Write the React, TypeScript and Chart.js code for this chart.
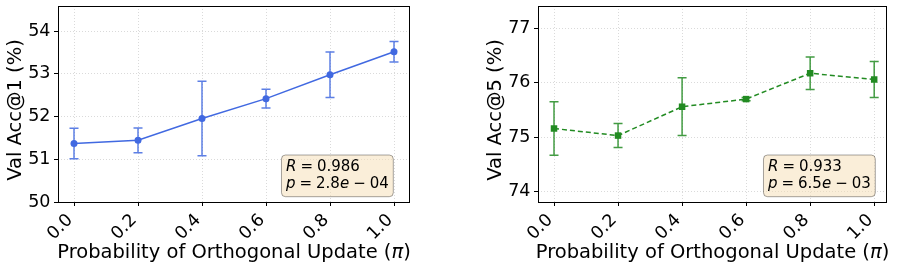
import React, { useEffect, useRef } from "react";
import { Chart, registerables } from "chart.js";

Chart.register(...registerables);

// ---------------- data ----------------
const probabilities = [0.0, 0.2, 0.4, 0.6, 0.8, 1.0];
const xTickValues = [0.0, 0.2, 0.4, 0.6, 0.8, 1.0];

const acc1Mean = [51.37, 51.445, 51.955, 52.42, 52.98, 53.52];
const acc1Err = [0.36, 0.29, 0.87, 0.22, 0.535, 0.24];
const acc1Ticks = [50, 51, 52, 53, 54];
const acc1R = "0.986";
const acc1PMant = "2.8";
const acc1PExp = "04";

const acc5Mean = [75.16, 75.03, 75.56, 75.7, 76.175, 76.06];
const acc5Err = [0.49, 0.22, 0.53, 0.03, 0.3, 0.33];
const acc5Ticks = [74, 75, 76, 77];
const acc5R = "0.933";
const acc5PMant = "6.5";
const acc5PExp = "03";

const xLabelMain = "Probability of Orthogonal Update (";
const xLabelSym = "π";
const xLabelEnd = ")";
const acc1Label = "Val Acc@1 (%)";
const acc5Label = "Val Acc@5 (%)";

const FONT = "'DejaVu Sans', 'Noto Sans', sans-serif";

type Seg = [string, "n" | "i" | "op"];

function drawSegs(ctx: CanvasRenderingContext2D, segs: Seg[], x: number, y: number, size: number, measureOnly = false) {
  const opPad = 4;
  let cx = x;
  for (const [t, k] of segs) {
    ctx.font = (k === "i" ? "oblique " : "") + size + "px " + FONT;
    if (k === "op") cx += opPad;
    if (!measureOnly) ctx.fillText(t, cx, y);
    cx += ctx.measureText(t).width;
    if (k === "op") cx += opPad;
  }
  return cx - x;
}

const decorPlugin = {
  id: "decor",
  beforeDatasetsDraw(chart: any, _args: any, opts: any) {
    const { ctx, chartArea: a, scales } = chart;
    const x = scales.x, y = scales.y;
    ctx.save();
    ctx.strokeStyle = "#000";
    ctx.lineWidth = 1;
    ctx.strokeRect(Math.round(a.left) + 0.5, Math.round(a.top) + 0.5, Math.round(a.right) - Math.round(a.left) - 1, Math.round(a.bottom) - Math.round(a.top));
    ctx.strokeStyle = opts.errColor;
    ctx.lineWidth = 1.5;
    const cap = 4.5;
    opts.xs.forEach((xv: number, i: number) => {
      const px = x.getPixelForValue(xv);
      const top = y.getPixelForValue(opts.means[i] + opts.errs[i]);
      const bot = y.getPixelForValue(opts.means[i] - opts.errs[i]);
      ctx.beginPath();
      ctx.moveTo(px, top);
      ctx.lineTo(px, bot);
      ctx.moveTo(px - cap, top);
      ctx.lineTo(px + cap, top);
      ctx.moveTo(px - cap, bot);
      ctx.lineTo(px + cap, bot);
      ctx.stroke();
    });
    ctx.restore();
  },
  afterDraw(chart: any, _args: any, opts: any) {
    const { ctx, chartArea: a } = chart;
    ctx.save();
    ctx.fillStyle = "#000";
    const tsize = 19.5;
    ctx.textBaseline = "alphabetic";
    ctx.textAlign = "left";
    const xsegs: Seg[] = [[xLabelMain, "n"], [xLabelSym, "i"], [xLabelEnd, "n"]];
    const w = drawSegs(ctx, xsegs, 0, 0, tsize, true);
    drawSegs(ctx, xsegs, (a.left + a.right) / 2 - w / 2, 257.5, tsize);
    ctx.save();
    ctx.translate(a.left - 42.5, (a.top + a.bottom) / 2 + 6);
    ctx.rotate(-Math.PI / 2);
    ctx.font = tsize + "px " + FONT;
    ctx.textAlign = "center";
    ctx.textBaseline = "middle";
    ctx.fillText(opts.yLabel, 0, 0);
    ctx.restore();
    const fs = 15;
    const l1: Seg[] = [["R", "i"], ["=", "op"], [opts.R, "n"]];
    const l2: Seg[] = [["p", "i"], ["=", "op"], [opts.pMant, "n"], ["e", "i"], ["−", "op"], [opts.pExp, "n"]];
    ctx.textAlign = "left";
    ctx.textBaseline = "alphabetic";
    const tw = Math.max(drawSegs(ctx, l1, 0, 0, fs, true), drawSegs(ctx, l2, 0, 0, fs, true));
    const pad = 4.5;
    const bw = tw + 2 * pad;
    const bh = 41.7;
    const br = a.right - opts.boxRight;
    const bb = a.bottom - 5.3;
    const bl = br - bw;
    const bt = bb - bh;
    ctx.beginPath();
    (ctx as any).roundRect(bl, bt, bw, bh, 4);
    ctx.fillStyle = "rgba(245,222,179,0.5)";
    ctx.fill();
    ctx.strokeStyle = "rgba(0,0,0,0.35)";
    ctx.lineWidth = 1;
    ctx.stroke();
    ctx.fillStyle = "#000";
    drawSegs(ctx, l1, bl + pad, bt + 16, fs);
    drawSegs(ctx, l2, bl + pad, bt + 33.4, fs);
    ctx.restore();
  },
};

type Panel = {
  means: number[];
  errs: number[];
  yTicks: number[];
  yMin: number;
  yMax: number;
  xMin: number;
  xMax: number;
  color: string;
  errColor: string;
  dash: number[];
  pointStyle: string;
  pointRadius: number;
  yLabel: string;
  R: string;
  pMant: string;
  pExp: string;
  padLeft: number;
  padRight: number;
  boxRight: number;
};

function makeConfig(p: Panel): any {
  const gridColor = "rgba(170,170,170,0.55)";
  const tickFont = { size: 17.5, family: FONT };
  return {
    type: "line",
    data: {
      datasets: [
        {
          data: probabilities.map((xv, i) => ({ x: xv, y: p.means[i] })),
          borderColor: p.color,
          backgroundColor: p.color,
          borderWidth: 1.5,
          borderDash: p.dash,
          pointStyle: p.pointStyle,
          pointRadius: p.pointRadius,
          pointBackgroundColor: p.color,
          pointBorderWidth: 0,
          tension: 0,
        },
      ],
    },
    options: {
      responsive: false,
      animation: false,
      devicePixelRatio: 1,
      layout: { padding: { left: p.padLeft, right: p.padRight, top: 6, bottom: 0 } },
      plugins: {
        legend: { display: false },
        tooltip: { enabled: false },
        decor: {
          xs: probabilities,
          means: p.means,
          errs: p.errs,
          errColor: p.errColor,
          yLabel: p.yLabel,
          R: p.R,
          pMant: p.pMant,
          pExp: p.pExp,
          boxRight: p.boxRight,
        },
      },
      scales: {
        x: {
          type: "linear",
          min: p.xMin,
          max: p.xMax,
          afterBuildTicks: (s: any) => {
            s.ticks = xTickValues.map((v) => ({ value: v }));
          },
          afterFit: (s: any) => {
            s.height = 69;
            s.paddingLeft = 0;
            s.paddingRight = 0;
          },
          ticks: {
            autoSkip: false,
            minRotation: 45,
            maxRotation: 45,
            padding: 4,
            labelOffset: -3.8,
            color: "#000",
            font: tickFont,
            callback: (v: any) => Number(v).toFixed(1),
          },
          grid: {
            color: gridColor,
            lineWidth: 0.8,
            tickColor: "#000",
            tickLength: 4,
            tickWidth: 1,
            tickBorderDash: [],
          },
          border: { display: false, dash: [1, 2] },
        },
        y: {
          type: "linear",
          min: p.yMin,
          max: p.yMax,
          afterBuildTicks: (s: any) => {
            s.ticks = p.yTicks.map((v) => ({ value: v }));
          },
          afterFit: (s: any) => {
            s.width = 58;
            s.paddingTop = 0;
            s.paddingBottom = 0;
          },
          ticks: {
            padding: 3.5,
            color: "#000",
            font: tickFont,
            callback: (v: any) => String(v),
          },
          grid: {
            color: gridColor,
            lineWidth: 0.8,
            tickColor: "#000",
            tickLength: 4,
            tickWidth: 1,
            tickBorderDash: [],
          },
          border: { display: false, dash: [1, 2] },
        },
      },
    },
    plugins: [decorPlugin],
  };
}

const leftPanel: Panel = {
  means: acc1Mean,
  errs: acc1Err,
  yTicks: acc1Ticks,
  yMin: 50,
  yMax: 54.59,
  xMin: -0.05,
  xMax: 1.05,
  color: "#4169E1",
  errColor: "rgba(65,105,225,0.85)",
  dash: [],
  pointStyle: "circle",
  pointRadius: 3.5,
  yLabel: acc1Label,
  R: acc1R,
  pMant: acc1PMant,
  pExp: acc1PExp,
  padLeft: 0,
  padRight: 38,
  boxRight: 16.7,
};

const rightPanel: Panel = {
  means: acc5Mean,
  errs: acc5Err,
  yTicks: acc5Ticks,
  yMin: 73.81,
  yMax: 77.41,
  xMin: -0.05,
  xMax: 1.04,
  color: "#228B22",
  errColor: "rgba(34,139,34,0.85)",
  dash: [5, 3],
  pointStyle: "rect",
  pointRadius: 4.6,
  yLabel: acc5Label,
  R: acc5R,
  pMant: acc5PMant,
  pExp: acc5PExp,
  padLeft: 32,
  padRight: 10,
  boxRight: 11.7,
};

function ChartCanvas({ panel, left, width }: { panel: Panel; left: number; width: number }) {
  const ref = useRef<HTMLCanvasElement | null>(null);
  useEffect(() => {
    if (!ref.current) return;
    const chart = new Chart(ref.current, makeConfig(panel));
    return () => chart.destroy();
  }, [panel]);
  return (
    <canvas
      ref={ref}
      width={width}
      height={271}
      style={{ position: "absolute", left, top: 0, width, height: 271 }}
    />
  );
}

export default function App() {
  return (
    <div style={{ position: "fixed", left: 0, top: 0, width: 897, height: 271, background: "#fff" }}>
      <ChartCanvas panel={leftPanel} left={0} width={448} />
      <ChartCanvas panel={rightPanel} left={448} width={449} />
    </div>
  );
}
